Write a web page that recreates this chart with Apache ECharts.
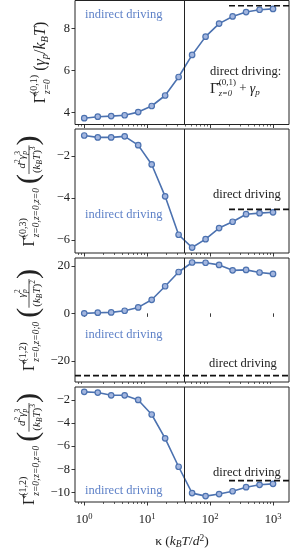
<!DOCTYPE html>
<html><head><meta charset="utf-8">
<script src="https://cdn.jsdelivr.net/npm/echarts@6/dist/echarts.min.js"></script>
<style>html,body{margin:0;padding:0;background:#fff}#c{width:290px;height:550px}</style>
</head><body><div id="c"></div>
<script>
// ---------------- data ----------------
const kappa = [1, 1.64, 2.68, 4.39, 7.20, 11.8, 19.3, 31.6, 51.8, 84.8, 139, 228, 373, 611, 1000];
const gamma01 = [3.74, 3.81, 3.84, 3.88, 4.03, 4.32, 4.82, 5.70, 6.75, 7.62, 8.24, 8.58, 8.79, 8.90, 8.94];
const gamma03 = [-1.03, -1.12, -1.12, -1.07, -1.49, -2.41, -3.93, -5.76, -6.37, -5.97, -5.44, -5.14, -4.78, -4.73, -4.69];
const gamma12a = [0.0, 0.28, 0.4, 1.1, 2.5, 5.7, 11.4, 17.4, 21.4, 21.3, 20.4, 18.1, 18.3, 17.2, 16.6];
const gamma12b = [-1.30, -1.36, -1.6, -1.6, -2.0, -3.26, -5.32, -7.78, -10.06, -10.32, -10.14, -9.90, -9.55, -9.34, -9.26];
const directLimit = [9.09, -4.55, -26.2, -8.98];
const directLimitFrom = [200, 200, 0.713, 200];
const kappaCross = 39;
const xRange = [0.713, 1795];
const xTicks = [1, 10, 100, 1000];
const xMinorTicks = [0.8, 0.9, 2, 3, 4, 5, 6, 7, 8, 9, 20, 30, 40, 50, 60, 70, 80, 90, 200, 300, 400, 500, 600, 700, 800, 900];
const yTicks = [[4, 6, 8], [-6, -4, -2], [-20, 0, 20], [-10, -8, -6, -4, -2]];
const yRanges = [[3.44, 9.34], [-6.63, -0.72], [-28.9, 23.3], [-10.83, -0.88]];
const seriesList = [gamma01, gamma03, gamma12a, gamma12b];

// ---------------- style ----------------
const FONT = '"Liberation Serif", serif';
const INK = '#222';
const BLUE = '#4c72b0';
const BLUE_TXT = '#5f82c8';
const gridTops = [0.5, 129, 258, 387];
const gridH = 124;
const gridLeft = 75, gridRight = 1;

const mctx = document.createElement('canvas').getContext('2d');
function tw(t, s, it) { mctx.font = (it ? 'italic ' : '') + s + 'px ' + FONT; return mctx.measureText(t).width; }
function T(t, s, dy, it) { return { t: t, s: s, dy: dy || 0, it: !!it }; }
function measure(items) {
  let u = 0;
  for (const it of items) {
    if (it.gap) u += it.gap;
    else if (it.stack) u += Math.max(...it.stack.map(r => tw(r.t, r.s, r.it)));
    else if (it.frac) u += Math.max(measure(it.frac.num), measure(it.frac.den)) + 2;
    else u += tw(it.t, it.s, it.it);
  }
  return u;
}
function mk(r, u, base, color) {
  return { type: 'text', x: u, y: base + r.dy, style: { text: r.t, fontSize: r.s, fontFamily: FONT, fontStyle: r.it ? 'italic' : 'normal', fill: color, align: 'left', verticalAlign: 'middle' } };
}
function layout(items, u, base, out, color) {
  for (const it of items) {
    if (it.gap) { u += it.gap; continue; }
    if (it.stack) { for (const r of it.stack) out.push(mk(r, u, base, color)); u += Math.max(...it.stack.map(r => tw(r.t, r.s, r.it))); continue; }
    if (it.frac) {
      const wn = measure(it.frac.num), wd = measure(it.frac.den), w = Math.max(wn, wd) + 2;
      layout(it.frac.num, u + (w - wn) / 2, base + it.frac.ny, out, color);
      layout(it.frac.den, u + (w - wd) / 2, base + it.frac.dy, out, color);
      out.push({ type: 'line', shape: { x1: u, y1: base + it.frac.by, x2: u + w, y2: base + it.frac.by }, style: { stroke: color, lineWidth: 0.8 } });
      u += w; continue;
    }
    out.push(mk(it, u, base, color)); u += tw(it.t, it.s, it.it);
  }
  return u;
}
function vLabel(items, cx, cy) {
  const children = [];
  layout(items, 0, 0, children, INK);
  const W = measure(items);
  return { type: 'group', x: cx, y: cy + W / 2, rotation: Math.PI / 2, children: children };
}
function hLabel(items, x, y, color) {
  const children = [];
  layout(items, 0, 0, children, color);
  return { type: 'group', x: x, y: y, children: children };
}
const G = 'Γ\u0302';
function gammaHead(sup, sub) {
  return [T(G, 16, 0), { stack: [T(sup, 10, -7), T(sub, 9.5, 6, true)] }];
}
function fracD2g3() {
  return { frac: { ny: -8, dy: 7, by: -1,
    num: [T('d', 11, 0, true), T('2', 7.5, -4), T('γ', 11, 0, true), { stack: [T('3', 7.5, -4), T('p', 7.5, 3, true)] }],
    den: [T('(', 11, 0), T('k', 11, 0, true), T('B', 7.5, 3, true), T('T', 11, 0, true), T(')', 11, 0), T('3', 7.5, -4)] } };
}
const BP = (c) => T(c, 30, -1);
const yLabels = [
  gammaHead('(0,1)', 'z=0').concat([{ gap: 4 }, T('(', 16, 0), T('γ', 16, 0, true), T('p', 10.5, 4, true), T('/', 16, 0), T('k', 16, 0, true), T('B', 10.5, 4, true), T('T', 16, 0, true), T(')', 16, 0)]),
  gammaHead('(0,3)', 'z=0,z=0,z=0').concat([{ gap: 4 }, BP('('), fracD2g3(), BP(')')]),
  gammaHead('(1,2)', 'z=0,z=0;0').concat([{ gap: 4 }, BP('('), { frac: { ny: -8, dy: 7, by: -1,
    num: [T('γ', 11, 0, true), { stack: [T('2', 7.5, -4), T('p', 7.5, 3, true)] }],
    den: [T('(', 11, 0), T('k', 11, 0, true), T('B', 7.5, 3, true), T('T', 11, 0, true), T(')', 11, 0), T('2', 7.5, -4)] } }, BP(')')]),
  gammaHead('(1,2)', 'z=0;z=0,z=0').concat([{ gap: 4 }, BP('('), fracD2g3(), BP(')')])
];
const yLabelX = [41, 30, 30, 30];

const grids = [], xAxes = [], yAxes = [], series = [];
for (let i = 0; i < 4; i++) {
  grids.push({ left: gridLeft, right: gridRight, top: gridTops[i], height: gridH, show: true, borderColor: INK, borderWidth: 1, backgroundColor: 'transparent' });
  const last = i === 3;
  xAxes.push({
    type: 'log', gridIndex: i, min: xRange[0], max: xRange[1], position: 'bottom',
    axisLine: { show: false }, splitLine: { show: false },
    axisTick: { show: true, length: 3.5, lineStyle: { color: INK, width: 0.9 }, customValues: xTicks },
    axisLabel: {
      show: last, customValues: xTicks, margin: 10,
      formatter: v => '{b|10}{s|' + Math.round(Math.log10(v)) + '}',
      rich: { b: { fontFamily: FONT, fontSize: 12.5, color: INK, lineHeight: 16 }, s: { fontFamily: FONT, fontSize: 8.5, color: INK, verticalAlign: 'top', lineHeight: 10 } }
    },
    name: last ? '{n|κ (}{i|k}{sb|B}{i|T}{n|/}{i|d}{sp|2}{n|)}' : '',
    nameLocation: 'middle', nameGap: 31,
    nameTextStyle: { rich: {
      n: { fontFamily: FONT, fontSize: 13.5, color: INK, lineHeight: 16 },
      i: { fontFamily: FONT, fontSize: 13.5, fontStyle: 'italic', color: INK, lineHeight: 16 },
      sb: { fontFamily: FONT, fontSize: 9.5, fontStyle: 'italic', color: INK, verticalAlign: 'bottom', lineHeight: 10 },
      sp: { fontFamily: FONT, fontSize: 9.5, color: INK, verticalAlign: 'top', lineHeight: 10 } } }
  });
  yAxes.push({
    type: 'value', gridIndex: i, min: yRanges[i][0], max: yRanges[i][1],
    axisLine: { show: false }, splitLine: { show: false },
    axisTick: { show: true, length: 3.5, lineStyle: { color: INK, width: 0.9 }, customValues: yTicks[i] },
    axisLabel: { customValues: yTicks[i], fontFamily: FONT, fontSize: 12.5, color: INK, margin: 5, formatter: v => (v < 0 ? '\u2212' + (-v) : '' + v) }
  });
  series.push({
    type: 'line', xAxisIndex: i, yAxisIndex: i,
    data: kappa.map((k, j) => [k, seriesList[i][j]]),
    lineStyle: { color: BLUE, width: 1.6 },
    symbol: 'circle', symbolSize: 5.5,
    itemStyle: { color: '#a3b6df', borderColor: BLUE, borderWidth: 1.2 },
    silent: true, animation: false, z: 3,
    markLine: { silent: true, symbol: 'none', animation: false, label: { show: false },
      lineStyle: { color: INK, width: 1, type: 'solid' }, data: [{ xAxis: kappaCross }] }
  });
  series.push({
    type: 'line', xAxisIndex: i, yAxisIndex: i,
    data: [[directLimitFrom[i], directLimit[i]], [xRange[1], directLimit[i]]],
    lineStyle: { color: '#111', width: 1.7, type: [6, 3] },
    symbol: 'none', silent: true, animation: false, z: 4
  });
  // minor log ticks, placed through the x scale
  series.push({
    type: 'custom', xAxisIndex: i, yAxisIndex: i, clip: false, silent: true, animation: false,
    data: xMinorTicks.map(v => [v, yRanges[i][0]]),
    renderItem: (params, api) => {
      const p = api.coord([api.value(0), api.value(1)]);
      const x = Math.round(p[0]) + 0.5;
      return { type: 'line', shape: { x1: x, y1: p[1], x2: x, y2: p[1] + 2 }, style: { stroke: INK, lineWidth: 0.7 } };
    }
  });
}

const graphics = [];
for (let i = 0; i < 4; i++) graphics.push(vLabel(yLabels[i], yLabelX[i], gridTops[i] + gridH / 2));
const txt = (s) => [T(s, 12.5, 0)];
graphics.push(hLabel(txt('indirect driving'), 85, 15, BLUE_TXT));
graphics.push(hLabel(txt('direct driving:'), 210, 72, INK));
graphics.push(hLabel([T(G, 15, 0), { stack: [T('(0,1)', 9, -6), T('z=0', 8.5, 5, true)] }, T(' + ', 13, 0), T('γ', 14, 0, true), T('p', 9, 4, true)], 210, 89, INK));
graphics.push(hLabel(txt('direct driving'), 213, 195, INK));
graphics.push(hLabel(txt('indirect driving'), 85, 215, BLUE_TXT));
graphics.push(hLabel(txt('indirect driving'), 85, 335, BLUE_TXT));
graphics.push(hLabel(txt('direct driving'), 209, 364, INK));
graphics.push(hLabel(txt('direct driving'), 213, 473, INK));
graphics.push(hLabel(txt('indirect driving'), 85, 491, BLUE_TXT));

const chart = echarts.init(document.getElementById('c'), null, { renderer: 'canvas' });
chart.setOption({
  animation: false,
  grid: grids, xAxis: xAxes, yAxis: yAxes, series: series,
  graphic: graphics
});
</script></body></html>
